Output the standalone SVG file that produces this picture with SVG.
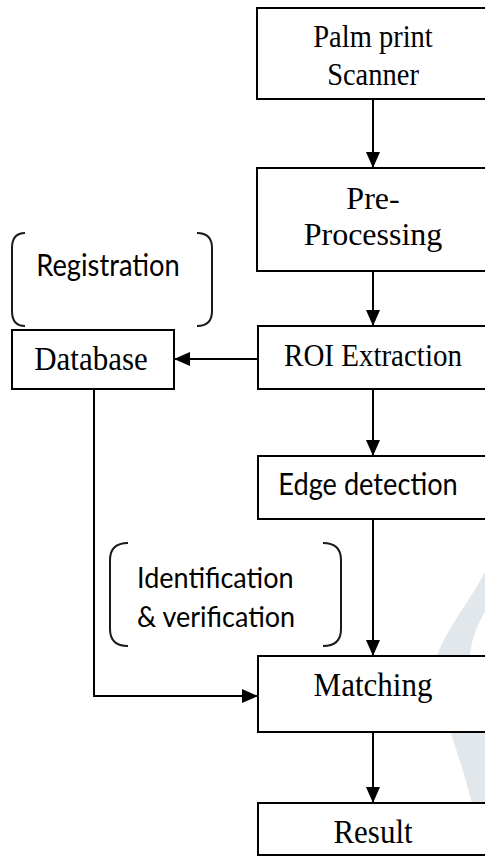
<svg xmlns="http://www.w3.org/2000/svg" width="485" height="856" viewBox="0 0 485 856">
  <style>
    .box { fill: #ffffff; stroke: #000000; stroke-width: 2; }
    .line { fill: none; stroke: #000000; stroke-width: 2; }
    .brk { fill: none; stroke: #1a1a1a; stroke-width: 2; }
    .serif { font-family: "Liberation Serif", "Times New Roman", serif; fill: #000000; }
    .sans { font-family: Lato, "Open Sans", "Liberation Sans", sans-serif; fill: #000000; }
  </style>
  <defs>
    <marker id="arrow" viewBox="0 0 16 14" refX="16" refY="7" markerWidth="16" markerHeight="14" markerUnits="userSpaceOnUse" orient="auto">
      <path d="M0,0 L16,7 L0,14 Z" fill="#000000"/>
    </marker>
  </defs>

  <rect width="485" height="856" fill="#ffffff"/>

  <!-- faint background mark -->
  <path d="M490,562 C472,600 444,630 436,660 C430,690 456,735 474,812 L492,812 L490,740 C480,700 470,672 470,655 C472,632 484,614 492,598 Z" fill="#e1e7eb"/>

  <!-- connectors -->
  <g id="connectors">
    <line class="line" x1="373" y1="99" x2="373" y2="168" marker-end="url(#arrow)"/>
    <line class="line" x1="373" y1="271" x2="373" y2="326" marker-end="url(#arrow)"/>
    <line class="line" x1="258" y1="359" x2="174" y2="359" marker-end="url(#arrow)"/>
    <line class="line" x1="373" y1="389" x2="373" y2="456" marker-end="url(#arrow)"/>
    <line class="line" x1="373" y1="519" x2="373" y2="656" marker-end="url(#arrow)"/>
    <polyline class="line" points="94,389 94,696 258,696" marker-end="url(#arrow)"/>
    <line class="line" x1="373" y1="732" x2="373" y2="803" marker-end="url(#arrow)"/>
  </g>

  <g id="scanner">
    <rect class="box" x="257" y="8" width="232" height="91"/>
    <text class="serif" transform="translate(373,47) scale(1,1.1)" font-size="28.5" text-anchor="middle">Palm print</text>
    <text class="serif" transform="translate(373,85) scale(1,1.1)" font-size="28.5" text-anchor="middle">Scanner</text>
  </g>

  <g id="preprocessing">
    <rect class="box" x="257" y="168" width="232" height="103"/>
    <text class="serif" x="373" y="209" font-size="32" text-anchor="middle">Pre-</text>
    <text class="serif" x="373" y="245" font-size="32" text-anchor="middle">Processing</text>
  </g>

  <g id="roi">
    <rect class="box" x="258" y="326" width="232" height="63"/>
    <text class="serif" transform="translate(373,366) scale(1,1.1)" font-size="29" text-anchor="middle">ROI Extraction</text>
  </g>

  <g id="registration">
    <path class="brk" d="M25,233 Q12,233 12,248 L12,311 Q12,326 25,326"/>
    <path class="brk" d="M197,233 Q212,233 212,248 L212,311 Q212,326 197,326"/>
    <text class="sans" transform="translate(108,276) scale(1,1.1)" font-size="27.3" text-anchor="middle">Registration</text>
  </g>

  <g id="database">
    <rect class="box" x="12" y="330" width="162" height="59"/>
    <text class="serif" transform="translate(91,370) scale(1,1.1)" font-size="31" text-anchor="middle">Database</text>
  </g>

  <g id="edge">
    <rect class="box" x="258" y="456" width="232" height="63"/>
    <text class="sans" transform="translate(368,495) scale(1,1.1)" font-size="27.2" text-anchor="middle">Edge detection</text>
  </g>

  <g id="identification">
    <path class="brk" d="M128,543 Q110,543 110,560 L110,629 Q110,646 128,646"/>
    <path class="brk" d="M323,543 Q341,543 341,560 L341,629 Q341,646 323,646"/>
    <text class="sans" transform="translate(137,588) scale(1,1.1)" font-size="27">Identification</text>
    <text class="sans" transform="translate(137,627) scale(1,1.1)" font-size="27">&amp; verification</text>
  </g>

  <g id="matching">
    <rect class="box" x="258" y="656" width="232" height="76"/>
    <text class="serif" transform="translate(373,696) scale(1,1.1)" font-size="31" text-anchor="middle">Matching</text>
  </g>

  <g id="result">
    <rect class="box" x="258" y="803" width="232" height="52"/>
    <text class="serif" transform="translate(373,843) scale(1,1.1)" font-size="31" text-anchor="middle">Result</text>
  </g>
</svg>
